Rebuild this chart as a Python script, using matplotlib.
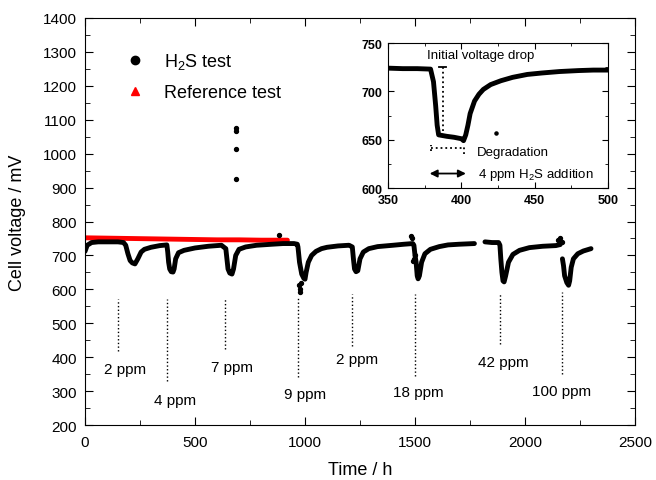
import numpy as np
import matplotlib
matplotlib.use('Agg')
import matplotlib.pyplot as plt
from matplotlib.lines import Line2D
from matplotlib.ticker import MultipleLocator

plt.rcParams['font.family'] = ['Liberation Sans', 'DejaVu Sans']
plt.rcParams['mathtext.fontset'] = 'custom'
plt.rcParams['mathtext.rm'] = 'Liberation Sans'

# H2S test, main curve (nan = gap in record)
h2s_t = [0, 10, 30, 60, 100, 150, 175, 185, 195, 205, 215, 227, 240, 255, 270, 300, 340, 372,
         376, 380, 385, 392, 400, 405, 412, 425, 450, 500, 560, 620, 640, 645, 650, 658, 668,
         675, 685, 700, 730, 780, 850, 900, 950, 965,
         968, 975, 985, 995, 1000, 1005, 1015, 1030, 1050, 1075, 1100, 1150, 1200, 1215, 1220,
         1225, 1232, 1240, 1250, 1265, 1290, 1330, 1400, 1450, 1490,
         1495, 1500, 1505, 1510, 1514, 1520, 1530, 1545, 1570, 1610, 1650, 1700, 1770,
         1790,
         1818, 1850, 1880, 1886, 1890, 1895, 1900, 1905, 1912, 1925, 1945, 1975, 2020, 2080,
         2140, 2160,
         2165,
         2170, 2175, 2180, 2190, 2198, 2203, 2210, 2220, 2240, 2265, 2290, 2300]
h2s_v = [712, 730, 738, 740, 740, 740, 738, 730, 705, 685, 678, 675, 690, 710, 718, 724, 729, 731,
         710, 680, 660, 652, 651, 660, 690, 708, 715, 722, 727, 730, 720, 690, 660, 648, 645,
         660, 700, 718, 725, 730, 733, 735, 735, 733,
         725, 680, 645, 632, 630, 650, 680, 700, 712, 720, 724, 728, 730, 725, 690,
         660, 652, 655, 690, 710, 720, 726, 730, 733, 735,
         730, 700, 680, 640, 631, 640, 680, 705, 718, 726, 731, 733, 735,
         np.nan,
         740, 738, 738, 730, 690, 650, 625, 622, 640, 680, 703, 715, 723, 727,
         729, 732,
         np.nan,
         690, 670, 640, 620, 612, 625, 665, 690, 705, 713, 718, 720]

# scattered single H2S points
out_t = [686, 686, 686, 686, 880, 972, 975, 978, 982, 1480, 1488, 1495, 1492, 1500,
         2150, 2160, 2168]
out_v = [1075, 1068, 1013, 925, 760, 612, 600, 592, 620, 757, 750, 690, 684, 700,
         745, 750, 741]

# reference test
ref_t = [0, 100, 200, 300, 400, 500, 600, 700, 800, 920]
ref_v = [752, 751, 750, 749, 748, 747, 746, 746, 745, 745]

# dotted markers of H2S addition: time, top, bottom, label position
add_t = [150, 373, 636, 968, 1214, 1500, 1886, 2168]
add_top = [572, 572, 575, 580, 586, 586, 586, 592]
add_bot = [418, 330, 424, 342, 433, 345, 439, 350]
add_lab = ['2 ppm', '4 ppm', '7 ppm', '9 ppm', '2 ppm', '18 ppm', '42 ppm', '100 ppm']
lab_t = [182, 409, 668, 1000, 1236, 1514, 1900, 2168]
lab_v = [365, 274, 371, 291, 395, 297, 386, 300]

# inset: zoom on 4 ppm step
ins_t = [350, 360, 370, 379, 381, 382.5, 383.5, 384.5, 390, 395, 400, 401.5, 403, 404.5,
         406, 409, 412, 415, 420, 427, 435, 445, 455, 467, 480, 490, 500]
ins_v = [724, 723.5, 723.5, 723, 710, 685, 665, 655, 653.5, 652.5, 651, 649, 655, 665,
         677, 690, 697, 702, 707, 711, 714.5, 717.5, 719, 720.5, 721.5, 722, 722]

fig = plt.figure(figsize=(6.56, 4.81), dpi=100)
ax = fig.add_axes([0.1296, 0.1143, 0.8384, 0.8462])

ax.plot(ref_t, ref_v, color='red', lw=3.5, solid_capstyle='round', zorder=2)
ax.plot(h2s_t, h2s_v, color='black', lw=3.5, solid_capstyle='round', solid_joinstyle='round', zorder=3)
ax.scatter(out_t, out_v, s=8, color='black', zorder=3)

for t, a, b in zip(add_t, add_top, add_bot):
    ax.plot([t, t], [b, a], ls=':', color='black', lw=1.0)
for s, t, v in zip(add_lab, lab_t, lab_v):
    ax.text(t, v, s, ha='center', va='center', fontsize=11)

ax.set_xlim(0, 2500)
ax.set_ylim(200, 1400)
ax.xaxis.set_major_locator(MultipleLocator(500))
ax.xaxis.set_minor_locator(MultipleLocator(250))
ax.yaxis.set_major_locator(MultipleLocator(100))
ax.yaxis.set_minor_locator(MultipleLocator(50))
ax.tick_params(which='both', direction='in', top=True, right=True, labelsize=11)
ax.tick_params(axis='y', pad=6)
ax.tick_params(axis='x', pad=7)
ax.tick_params(which='major', length=6)
ax.tick_params(which='minor', length=3.5)
ax.set_xlabel('Time / h', fontsize=13, labelpad=9)
ax.set_ylabel('Cell voltage / mV', fontsize=13, labelpad=12)

handles = [Line2D([], [], marker='o', ls='none', color='black', ms=6),
           Line2D([], [], marker='^', ls='none', color='red', ms=6)]
ax.legend(handles, ['H$_\\mathregular{2}$S test', 'Reference test'], loc='upper left',
          bbox_to_anchor=(0.045, 0.958), frameon=False, fontsize=13, labelspacing=0.7,
          handletextpad=1.1, handlelength=1.0)

# inset
axi = fig.add_axes([0.5915, 0.607, 0.3353, 0.3015])
axi.plot(ins_t, ins_v, color='black', lw=3.5, solid_capstyle='round', solid_joinstyle='round')
axi.scatter([423.6], [657], s=5, color='black')
axi.plot([387.8, 387.8], [659.5, 725], ls=':', color='black', lw=1.3)
axi.plot([385, 389.5], [725, 725], color='black', lw=1.3)
axi.plot([379, 402], [641, 641], ls=':', color='black', lw=1.3)
axi.plot([379.5, 379.5], [638, 645], ls=':', color='black', lw=1.3)
axi.plot([401.5, 401.5], [635, 645], ls=':', color='black', lw=1.3)
axi.annotate('', xy=(405, 615), xytext=(376.5, 615),
             arrowprops=dict(arrowstyle='<|-|>', color='black', lw=1.3, mutation_scale=11))
axi.text(413, 738, 'Initial voltage drop', ha='center', va='center', fontsize=9.5)
axi.text(410.5, 637, 'Degradation', ha='left', va='center', fontsize=9.5)
axi.text(411.5, 615, '4 ppm H$_\\mathregular{2}$S addition', ha='left', va='center', fontsize=9.5)
axi.set_xlim(350, 500)
axi.set_ylim(600, 750)
axi.xaxis.set_major_locator(MultipleLocator(50))
axi.yaxis.set_major_locator(MultipleLocator(50))
axi.xaxis.set_minor_locator(MultipleLocator(25))
axi.yaxis.set_minor_locator(MultipleLocator(25))
axi.tick_params(which='both', direction='in', top=True, right=True, labelsize=9, pad=4)
axi.tick_params(which='major', length=4)
axi.tick_params(which='minor', length=2)
for lab in axi.get_xticklabels() + axi.get_yticklabels():
    lab.set_fontweight('bold')

fig.savefig('out.png', dpi=100)
